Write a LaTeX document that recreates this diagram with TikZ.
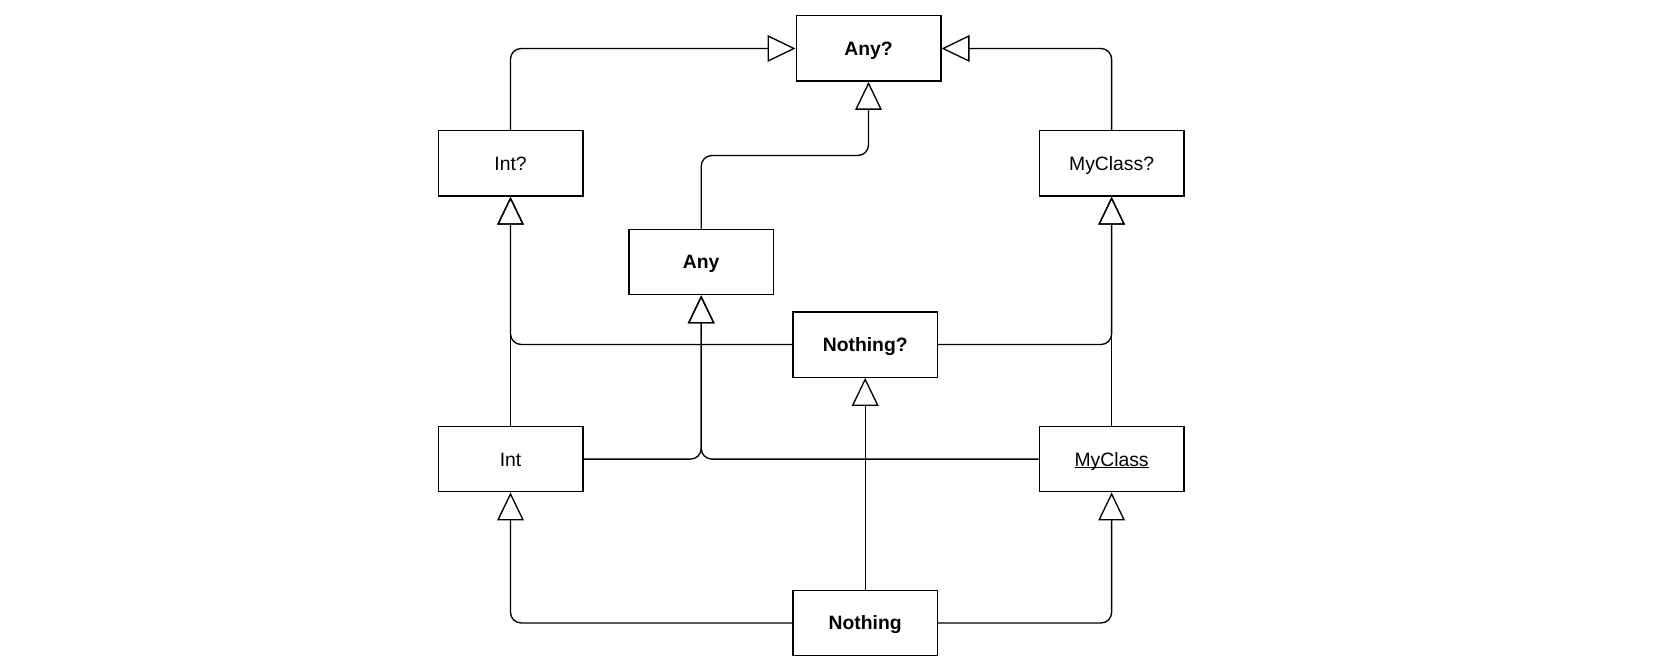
\documentclass[tikz,border=0pt]{standalone}
\usepackage{fontspec}
\setmainfont{Liberation Sans}
\usetikzlibrary{arrows.meta}
\newcommand\myul[1]{\setbox0\hbox{#1}\rlap{\rule[-1.6pt]{\wd0}{0.7pt}}\box0}
\begin{document}
\begin{tikzpicture}[x=0.75pt,y=-0.75pt,
  cls/.style={draw,line width=1pt,rectangle,inner sep=0pt,minimum width=108.5pt,minimum height=49pt,text height=10.4pt,text depth=0pt,font=\fontsize{14.5}{17}\selectfont},
  gen/.style={line width=1pt,rounded corners=8pt,-{Triangle[open,length=21pt,width=20pt,line width=1pt]}}]
\useasboundingbox (0,0) rectangle (1680,670);
\node[cls] (anyq) at (868.5,48.5) {\bfseries Any?};
\node[cls] (intq) at (510.5,163.4) {Int?};
\node[cls] (mcq) at (1111.6,163.4) {MyClass?};
\node[cls] (any) at (701.2,262) {\bfseries Any};
\node[cls] (nothq) at (865.2,344.5) {\bfseries Nothing?};
\node[cls] (int) at (510.5,459.1) {Int};
\node[cls] (mc) at (1111.6,459.1) {\myul{MyClass}};
\node[cls] (noth) at (865.2,623) {\bfseries Nothing};
\coordinate (j1) at (780,155.5);
\draw[gen] (intq.north) |- (anyq.west);
\draw[gen] (mcq.north) |- (anyq.east);
\draw[gen] (any.north) |- (j1) -| (anyq.south);
\draw[gen] (nothq.west) -| (intq.south);
\draw[gen] (nothq.east) -| (mcq.south);
\draw[gen] (int.north) -- (intq.south);
\draw[gen] (mc.north) -- (mcq.south);
\draw[gen] (int.east) -| (any.south);
\draw[gen] (mc.west) -| (any.south);
\draw[gen] (noth.north) -- (nothq.south);
\draw[gen] (noth.west) -| (int.south);
\draw[gen] (noth.east) -| (mc.south);
\end{tikzpicture}
\end{document}
